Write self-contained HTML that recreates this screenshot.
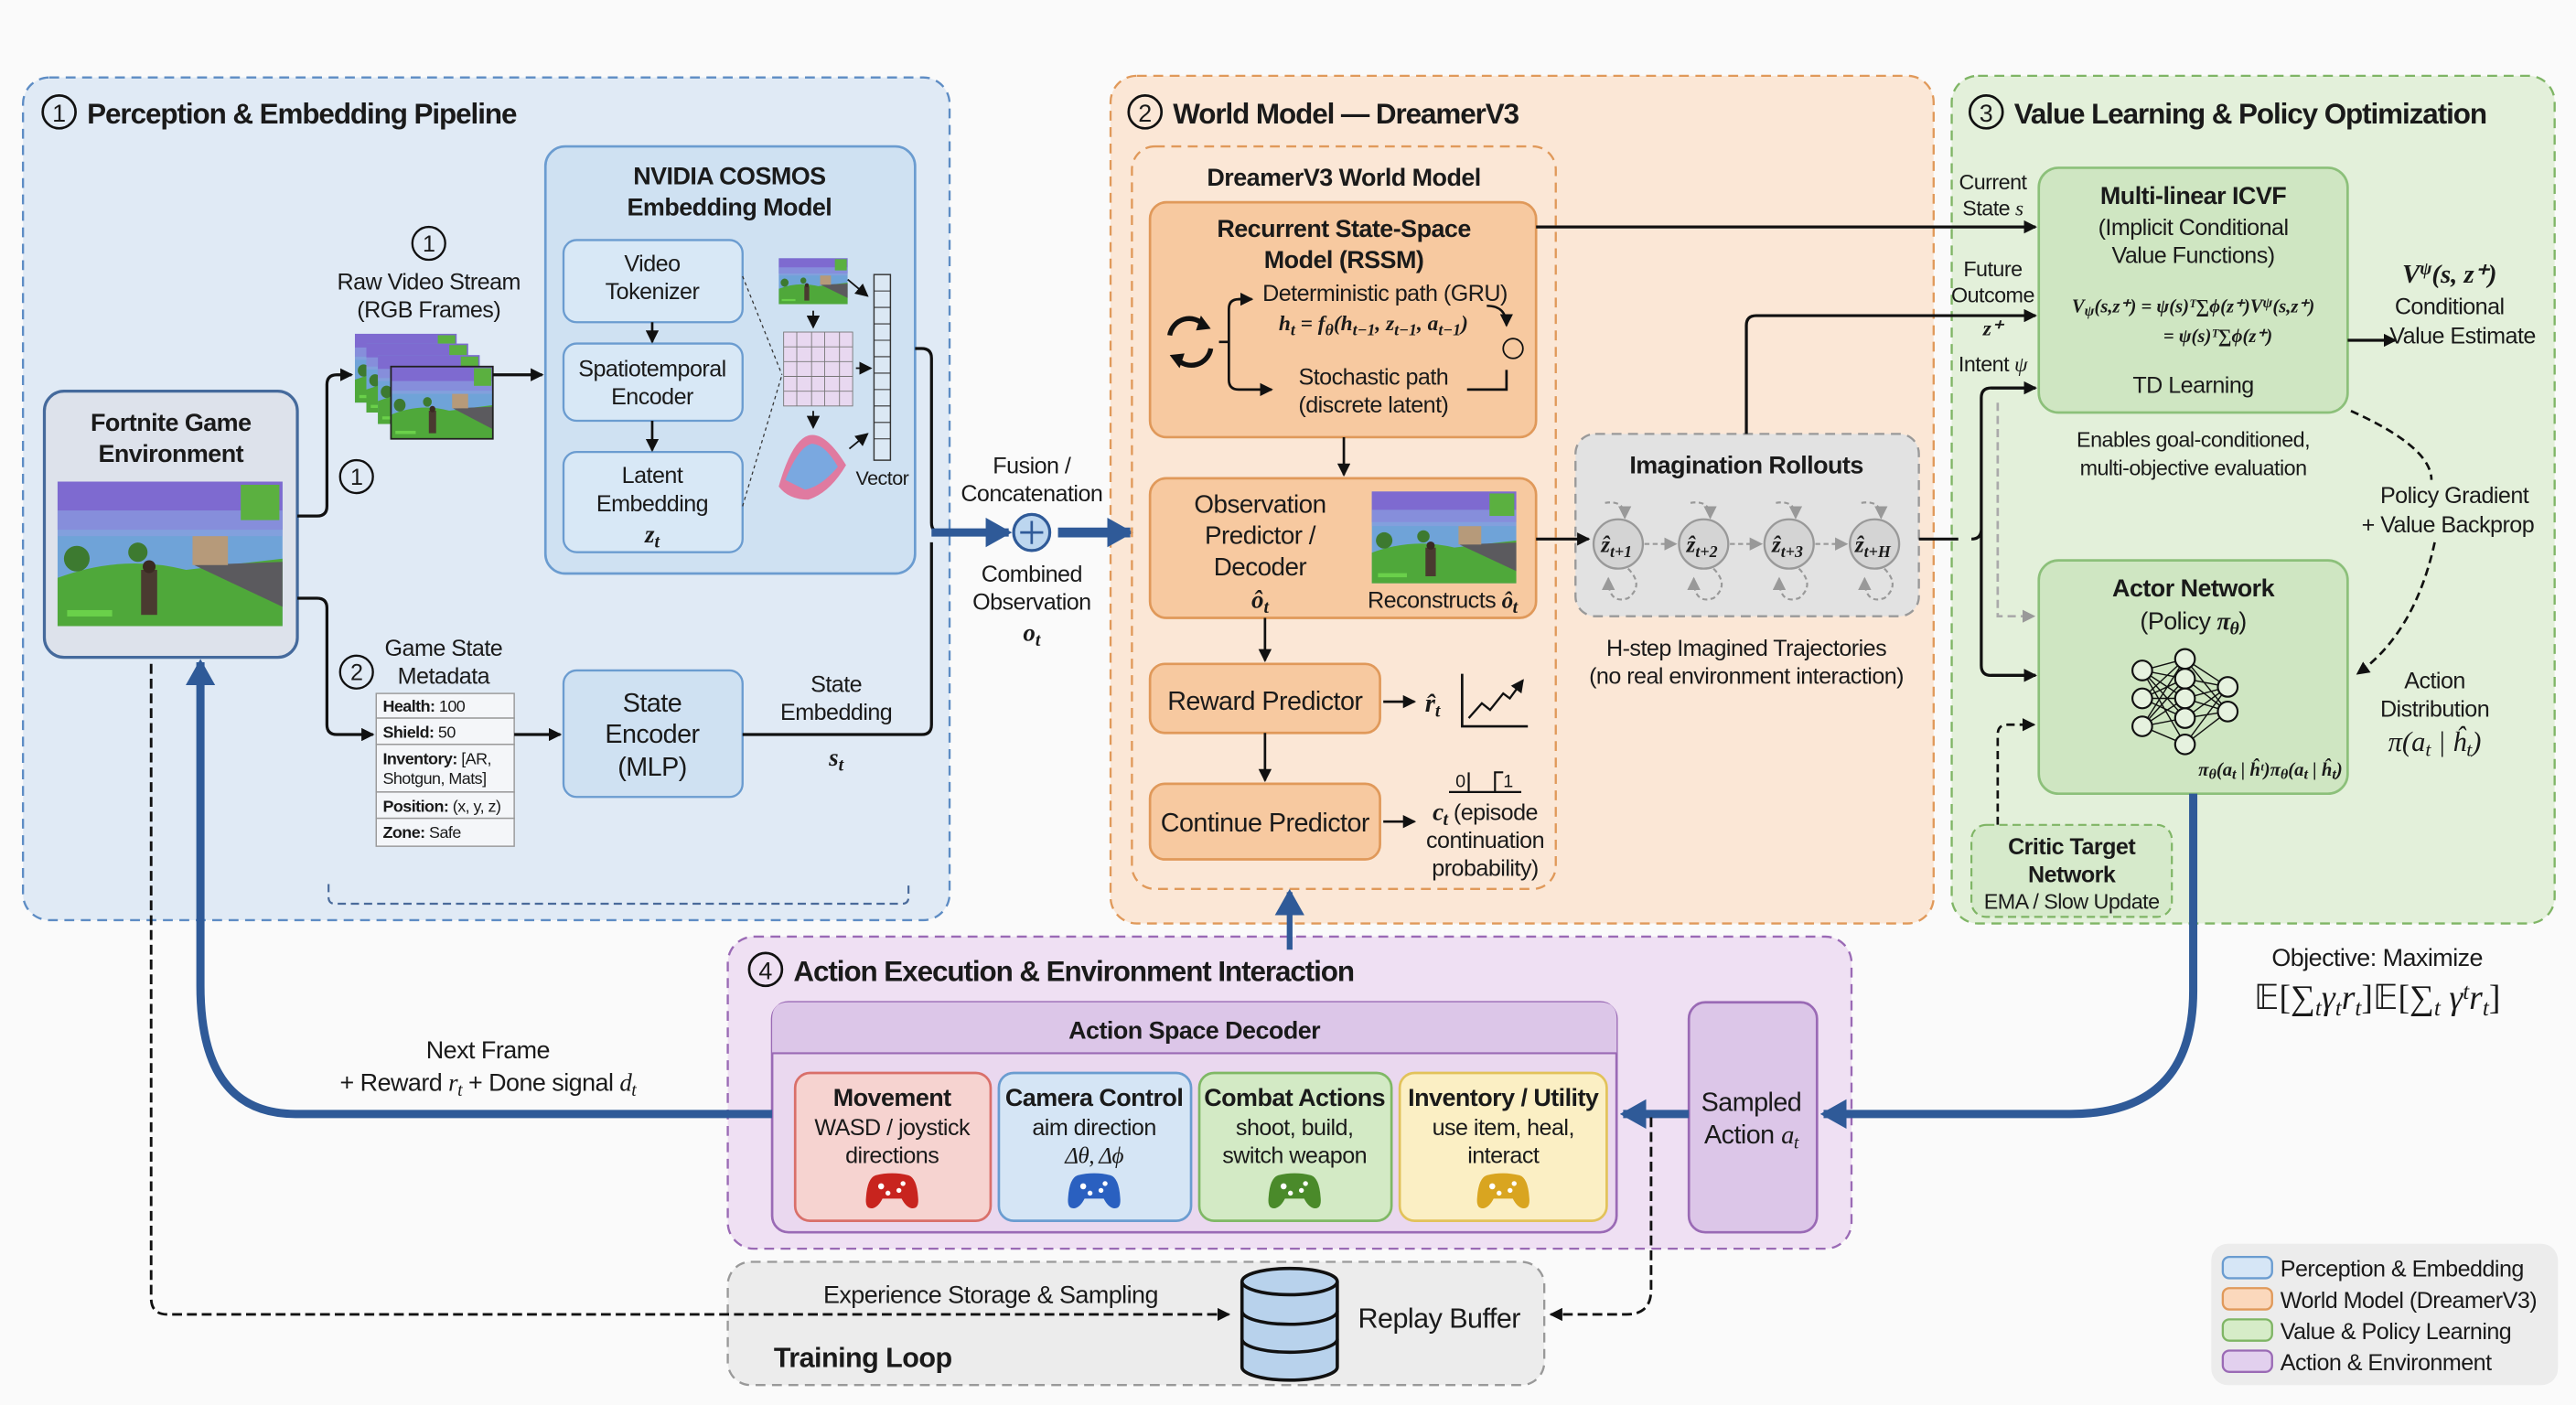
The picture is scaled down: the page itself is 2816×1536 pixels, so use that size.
<!DOCTYPE html>
<html><head><meta charset="utf-8"><style>
html,body{margin:0;padding:0;background:#fafafa;}
svg{display:block;}
text{font-family:"Liberation Sans",sans-serif;fill:#1a1a1a;}
.t{font-size:14px;letter-spacing:-0.3px;}
.b{font-weight:bold;}
.h{font-size:17.5px;font-weight:bold;letter-spacing:-0.6px;}
.m{font-family:"Liberation Serif",serif;font-style:italic;}
</style></head><body>
<svg width="2816" height="1536" viewBox="0 0 1568 855" xmlns="http://www.w3.org/2000/svg">
<defs>
<marker id="ak" markerWidth="8" markerHeight="8" refX="7" refY="4" orient="auto" markerUnits="userSpaceOnUse"><path d="M0,0 L8,4 L0,8 Z" fill="#111"/></marker>
<marker id="ag" markerWidth="8" markerHeight="8" refX="7" refY="4" orient="auto" markerUnits="userSpaceOnUse"><path d="M0,0 L8,4 L0,8 Z" fill="#999"/></marker>
<marker id="ab" markerWidth="16" markerHeight="18" refX="14" refY="9" orient="auto" markerUnits="userSpaceOnUse"><path d="M0,0 L16,9 L0,18 Z" fill="#2f5a98"/></marker>
<symbol id="scene" viewBox="0 0 140 90" preserveAspectRatio="none">
<rect width="140" height="90" fill="#6fa3d8"/>
<rect width="140" height="30" fill="#7e6ad0"/>
<rect y="18" width="140" height="16" fill="#8a9ee0" opacity="0.7"/>
<path d="M0,60 Q40,45 80,55 L140,48 L140,90 L0,90Z" fill="#4fa83a"/>
<path d="M85,52 L140,50 L140,78 Z" fill="#5b5a5e"/>
<rect x="84" y="34" width="22" height="18" fill="#b69a7a"/>
<circle cx="12" cy="48" r="8" fill="#3d7a30"/>
<circle cx="50" cy="44" r="6" fill="#3d7a30"/>
<rect x="52" y="55" width="10" height="28" fill="#4a3a30"/>
<circle cx="57" cy="53" r="4" fill="#3a2a22"/>
<rect x="114" y="2" width="24" height="22" fill="#5bb040"/>
<rect x="6" y="80" width="28" height="4" fill="#6ad04a"/>
</symbol>
<symbol id="pad" viewBox="0 0 40 30">
<path d="M8,4 Q20,1 32,4 Q38,6 39,20 Q40,29 34,28 Q30,27 27,21 L13,21 Q10,27 6,28 Q0,29 1,20 Q2,6 8,4Z"/>
<circle cx="12" cy="12" r="2.2" fill="#fff"/><circle cx="28" cy="10" r="1.8" fill="#fff"/><circle cx="25" cy="15" r="1.8" fill="#fff"/><circle cx="17" cy="17" r="1.8" fill="#fff"/>
</symbol>
</defs>
<rect width="1568" height="855" fill="#fafafa"/>

<!-- Panel 1 -->
<rect x="14" y="47" width="564" height="513" rx="16" fill="#e0eaf5" stroke="#5d8cc4" stroke-width="1.3" stroke-dasharray="6,4"/>
<circle cx="36" cy="68" r="10" fill="none" stroke="#111" stroke-width="1.5"/><text x="36" y="74" text-anchor="middle" style="font-size:15px">1</text>
<text x="53" y="75" class="h">Perception &amp; Embedding Pipeline</text>

<rect x="27" y="238" width="154" height="162" rx="12" fill="#dde2eb" stroke="#456a9c" stroke-width="1.8"/>
<text x="104" y="262" text-anchor="middle" class="t b" style="font-size:15px">Fortnite Game</text>
<text x="104" y="281" text-anchor="middle" class="t b" style="font-size:15px">Environment</text>
<use href="#scene" x="35" y="293" width="137" height="88"/>

<circle cx="261" cy="148" r="10" fill="none" stroke="#111" stroke-width="1.3"/><text x="261" y="153" text-anchor="middle" class="t">1</text>
<text x="261" y="176" text-anchor="middle" class="t">Raw Video Stream</text>
<text x="261" y="193" text-anchor="middle" class="t">(RGB Frames)</text>
<use href="#scene" x="216" y="203" width="62" height="42"/>
<use href="#scene" x="223" y="209" width="62" height="42"/>
<use href="#scene" x="230" y="216" width="62" height="42"/>
<use href="#scene" x="238" y="223" width="62" height="44"/>
<rect x="238" y="223" width="62" height="44" fill="none" stroke="#222" stroke-width="1"/>
<circle cx="217" cy="290" r="10" fill="none" stroke="#111" stroke-width="1.3"/><text x="217" y="295" text-anchor="middle" class="t">1</text>

<rect x="332" y="89" width="225" height="260" rx="12" fill="#cfe1f2" stroke="#6b9cd0" stroke-width="1.5"/>
<text x="444" y="112" text-anchor="middle" class="t b" style="font-size:15px">NVIDIA COSMOS</text>
<text x="444" y="131" text-anchor="middle" class="t b" style="font-size:15px">Embedding Model</text>
<rect x="343" y="146" width="109" height="50" rx="8" fill="#d8e8f6" stroke="#6b9cd0" stroke-width="1.3"/>
<text x="397" y="165" text-anchor="middle" class="t">Video</text><text x="397" y="182" text-anchor="middle" class="t">Tokenizer</text>
<rect x="343" y="209" width="109" height="47" rx="8" fill="#d8e8f6" stroke="#6b9cd0" stroke-width="1.3"/>
<text x="397" y="229" text-anchor="middle" class="t">Spatiotemporal</text><text x="397" y="246" text-anchor="middle" class="t">Encoder</text>
<rect x="343" y="275" width="109" height="61" rx="8" fill="#d8e8f6" stroke="#6b9cd0" stroke-width="1.3"/>
<text x="397" y="294" text-anchor="middle" class="t">Latent</text><text x="397" y="311" text-anchor="middle" class="t">Embedding</text><text x="397" y="330" text-anchor="middle" class="m b" style="font-size:15px">z<tspan style="font-size:11px" dy="3">t</tspan></text>
<line x1="397" y1="196" x2="397" y2="208" stroke="#111" stroke-width="1.5" marker-end="url(#ak)"/>
<line x1="397" y1="256" x2="397" y2="274" stroke="#111" stroke-width="1.5" marker-end="url(#ak)"/>
<line x1="452" y1="168" x2="476" y2="228" stroke="#333" stroke-width="0.7" stroke-dasharray="2,2"/>
<line x1="452" y1="308" x2="476" y2="228" stroke="#333" stroke-width="0.7" stroke-dasharray="2,2"/>
<use href="#scene" x="474" y="157" width="42" height="28"/>
<g stroke="#777" stroke-width="0.5" fill="#e8d8f0">
<rect x="477" y="202" width="42" height="45"/>
<path d="M477,211h42M477,220h42M477,229h42M477,238h42M485,202v45M494,202v45M502,202v45M511,202v45" fill="none"/>
</g>
<path d="M474,296 Q482,268 492,265 Q502,262 515,283 Q505,300 492,304 Q480,304 474,296Z" fill="#e07aa0"/>
<path d="M478,292 Q486,272 494,270 Q502,270 510,284 Q500,296 490,298Z" fill="#7aa8e0"/>
<line x1="495" y1="189" x2="495" y2="199" stroke="#111" stroke-width="1" marker-end="url(#ak)"/>
<line x1="495" y1="250" x2="495" y2="260" stroke="#111" stroke-width="1" marker-end="url(#ak)"/>
<line x1="516" y1="170" x2="528" y2="180" stroke="#111" stroke-width="1" marker-end="url(#ak)"/>
<line x1="521" y1="224" x2="530" y2="224" stroke="#111" stroke-width="1" marker-end="url(#ak)"/>
<line x1="517" y1="273" x2="528" y2="264" stroke="#111" stroke-width="1" marker-end="url(#ak)"/>
<rect x="532" y="167" width="10" height="113" fill="#dbe8f4" stroke="#333" stroke-width="0.8"/>
<path d="M532,177h10M532,187h10M532,197h10M532,207h10M532,217h10M532,227h10M532,237h10M532,247h10M532,257h10M532,267h10" stroke="#333" stroke-width="0.6"/>
<text x="537" y="295" text-anchor="middle" class="t" style="font-size:12px">Vector</text>

<circle cx="217" cy="409" r="10" fill="none" stroke="#111" stroke-width="1.3"/><text x="217" y="414" text-anchor="middle" class="t">2</text>
<text x="270" y="399" text-anchor="middle" class="t">Game State</text><text x="270" y="416" text-anchor="middle" class="t">Metadata</text>
<g stroke="#999" stroke-width="0.8" fill="#f4f6f9">
<rect x="229" y="422" width="84" height="15"/><rect x="229" y="437" width="84" height="16"/><rect x="229" y="453" width="84" height="29"/><rect x="229" y="482" width="84" height="16"/><rect x="229" y="498" width="84" height="17"/>
</g>
<text x="233" y="433" class="t" style="font-size:10px"><tspan class="b">Health:</tspan> 100</text>
<text x="233" y="449" class="t" style="font-size:10px"><tspan class="b">Shield:</tspan> 50</text>
<text x="233" y="465" class="t" style="font-size:10px"><tspan class="b">Inventory:</tspan> [AR,</text>
<text x="233" y="477" class="t" style="font-size:10px">Shotgun, Mats]</text>
<text x="233" y="494" class="t" style="font-size:10px"><tspan class="b">Position:</tspan> (x, y, z)</text>
<text x="233" y="510" class="t" style="font-size:10px"><tspan class="b">Zone:</tspan> Safe</text>
<rect x="343" y="408" width="109" height="77" rx="8" fill="#cfe1f2" stroke="#6b9cd0" stroke-width="1.3"/>
<text x="397" y="433" text-anchor="middle" class="t" style="font-size:16px">State</text>
<text x="397" y="452" text-anchor="middle" class="t" style="font-size:16px">Encoder</text>
<text x="397" y="472" text-anchor="middle" class="t" style="font-size:16px">(MLP)</text>
<text x="509" y="421" text-anchor="middle" class="t">State</text><text x="509" y="438" text-anchor="middle" class="t">Embedding</text>
<text x="509" y="466" text-anchor="middle" class="m b" style="font-size:15px">s<tspan style="font-size:11px" dy="3">t</tspan></text>
<path d="M200,538 v8 q0,4 4,4 h345 q4,0 4,-4 v-8" fill="none" stroke="#4a6a9a" stroke-width="1.2" stroke-dasharray="5,3"/>

<!-- P1 connectors -->
<path d="M181,314 h12 q6,0 6,-6 v-74 q0,-6 6,-6 h9" fill="none" stroke="#111" stroke-width="1.8" marker-end="url(#ak)"/>
<path d="M181,364 h12 q6,0 6,6 v71 q0,6 6,6 h22" fill="none" stroke="#111" stroke-width="1.8" marker-end="url(#ak)"/>
<line x1="300" y1="228" x2="330" y2="228" stroke="#111" stroke-width="1.8" marker-end="url(#ak)"/>
<line x1="313" y1="447" x2="341" y2="447" stroke="#111" stroke-width="1.8" marker-end="url(#ak)"/>
<path d="M557,212 h4 q6,0 6,6 v100 q0,6 6,6" fill="none" stroke="#111" stroke-width="1.8"/>
<path d="M452,447 h109 q6,0 6,-6 v-111" fill="none" stroke="#111" stroke-width="1.8"/>
<text x="628" y="288" text-anchor="middle" class="t">Fusion /</text><text x="628" y="305" text-anchor="middle" class="t">Concatenation</text>
<text x="628" y="354" text-anchor="middle" class="t">Combined</text><text x="628" y="371" text-anchor="middle" class="t">Observation</text>
<text x="628" y="390" text-anchor="middle" class="m b" style="font-size:15px">o<tspan style="font-size:11px" dy="3">t</tspan></text>

<!-- Panel 2 -->
<rect x="676" y="46" width="501" height="516" rx="16" fill="#fbe7d6" stroke="#e0995a" stroke-width="1.3" stroke-dasharray="6,4"/>
<line x1="567" y1="324" x2="614" y2="324" stroke="#2f5a98" stroke-width="5" marker-end="url(#ab)"/>
<circle cx="628" cy="324" r="11" fill="#bcd6ef" stroke="#2f5a98" stroke-width="1.8"/>
<path d="M621,324h14M628,317v14" stroke="#2f5a98" stroke-width="1.5"/>
<line x1="644" y1="324" x2="688" y2="324" stroke="#2f5a98" stroke-width="6" marker-end="url(#ab)"/>
<circle cx="697" cy="68" r="10" fill="none" stroke="#111" stroke-width="1.5"/><text x="697" y="74" text-anchor="middle" style="font-size:15px">2</text>
<text x="714" y="75" class="h">World Model — DreamerV3</text>
<rect x="689" y="89" width="258" height="452" rx="14" fill="none" stroke="#e0995a" stroke-width="1.3" stroke-dasharray="6,4"/>
<text x="818" y="113" text-anchor="middle" class="t b" style="font-size:15px">DreamerV3 World Model</text>
<rect x="700" y="123" width="235" height="143" rx="10" fill="#f7c9a0" stroke="#e0995a" stroke-width="1.5"/>
<text x="818" y="144" text-anchor="middle" class="t b" style="font-size:15px">Recurrent State-Space</text>
<text x="818" y="163" text-anchor="middle" class="t b" style="font-size:15px">Model (RSSM)</text>
<text x="843" y="183" text-anchor="middle" class="t">Deterministic path (GRU)</text>
<text x="836" y="201" text-anchor="middle" class="m b" style="font-size:13px">h<tspan dy="3" style="font-size:10px">t</tspan><tspan dy="-3"> = f</tspan><tspan dy="3" style="font-size:10px">θ</tspan><tspan dy="-3">(h</tspan><tspan dy="3" style="font-size:10px">t−1</tspan><tspan dy="-3">, z</tspan><tspan dy="3" style="font-size:10px">t−1</tspan><tspan dy="-3">, a</tspan><tspan dy="3" style="font-size:10px">t−1</tspan><tspan dy="-3">)</tspan></text>
<text x="836" y="234" text-anchor="middle" class="t">Stochastic path</text>
<text x="836" y="251" text-anchor="middle" class="t">(discrete latent)</text>
<g fill="none" stroke="#111" stroke-width="3">
<path d="M712,204 a12,12 0 0 1 21,-6"/><path d="M737,212 a12,12 0 0 1 -21,6"/>
</g>
<path d="M731,192 l6,8 l-9,1z M718,224 l-6,-8 l9,-1z" fill="#111"/>
<path d="M742,208 h6 M748,208 v-20 q0,-6 6,-6 h8 M748,208 v23 q0,6 6,6 h20" fill="none" stroke="#111" stroke-width="1.5"/>
<path d="M754,182 h8" stroke="#111" stroke-width="1.5" marker-end="url(#ak)"/>
<path d="M768,237 h6" stroke="#111" stroke-width="1.5" marker-end="url(#ak)"/>
<path d="M905,186 q12,0 12,12" fill="none" stroke="#111" stroke-width="1.3" marker-end="url(#ak)"/>
<circle cx="921" cy="212" r="6" fill="none" stroke="#111" stroke-width="1"/>
<path d="M893,237 h24 v-12" fill="none" stroke="#111" stroke-width="1.5"/>
<line x1="818" y1="266" x2="818" y2="289" stroke="#111" stroke-width="1.5" marker-end="url(#ak)"/>
<rect x="700" y="291" width="235" height="85" rx="10" fill="#f7c9a0" stroke="#e0995a" stroke-width="1.5"/>
<text x="767" y="312" text-anchor="middle" class="t" style="font-size:15.5px">Observation</text>
<text x="767" y="331" text-anchor="middle" class="t" style="font-size:15.5px">Predictor /</text>
<text x="767" y="350" text-anchor="middle" class="t" style="font-size:15.5px">Decoder</text>
<text x="767" y="370" text-anchor="middle" class="m b" style="font-size:15px">ô<tspan dy="3" style="font-size:11px">t</tspan></text>
<use href="#scene" x="835" y="299" width="88" height="56"/>
<text x="878" y="370" text-anchor="middle" class="t">Reconstructs <tspan class="m b">ô<tspan dy="3" style="font-size:11px">t</tspan></tspan></text>
<line x1="770" y1="376" x2="770" y2="402" stroke="#111" stroke-width="1.5" marker-end="url(#ak)"/>
<rect x="700" y="404" width="140" height="42" rx="9" fill="#f7c9a0" stroke="#e0995a" stroke-width="1.5"/>
<text x="770" y="432" text-anchor="middle" class="t" style="font-size:16px">Reward Predictor</text>
<line x1="842" y1="427" x2="861" y2="427" stroke="#111" stroke-width="1.5" marker-end="url(#ak)"/>
<text x="872" y="433" text-anchor="middle" class="m b" style="font-size:16px">r̂<tspan dy="3" style="font-size:11px">t</tspan></text>
<path d="M890,410 v32 h40" fill="none" stroke="#111" stroke-width="1.5"/>
<path d="M894,437 l8,-9 l5,4 l8,-10 l4,3 l8,-11" fill="none" stroke="#111" stroke-width="1.3" marker-end="url(#ak)"/>
<line x1="770" y1="446" x2="770" y2="475" stroke="#111" stroke-width="1.5" marker-end="url(#ak)"/>
<rect x="700" y="477" width="140" height="46" rx="9" fill="#f7c9a0" stroke="#e0995a" stroke-width="1.5"/>
<text x="770" y="506" text-anchor="middle" class="t" style="font-size:16px">Continue Predictor</text>
<line x1="842" y1="500" x2="861" y2="500" stroke="#111" stroke-width="1.5" marker-end="url(#ak)"/>
<text x="886" y="479" class="t" style="font-size:11px">0</text><text x="915" y="479" class="t" style="font-size:11px">1</text>
<path d="M882,482 h44 M894,482 v-12 M910,482 v-12 h5" fill="none" stroke="#111" stroke-width="1.2"/>
<text x="904" y="499" text-anchor="middle" class="t"><tspan class="m b" style="font-size:15px">c<tspan dy="3" style="font-size:11px">t</tspan></tspan><tspan dy="-3"> (episode</tspan></text>
<text x="904" y="516" text-anchor="middle" class="t">continuation</text>
<text x="904" y="533" text-anchor="middle" class="t">probability)</text>

<!-- Imagination -->
<rect x="959" y="264" width="209" height="111" rx="12" fill="#e2e2e2" stroke="#999" stroke-width="1.3" stroke-dasharray="6,4"/>
<text x="1063" y="288" text-anchor="middle" class="t b" style="font-size:15px">Imagination Rollouts</text>
<g fill="#d4d4d4" stroke="#999" stroke-width="1.3">
<circle cx="985" cy="331" r="15"/><circle cx="1037" cy="331" r="15"/><circle cx="1089" cy="331" r="15"/><circle cx="1141" cy="331" r="15"/>
</g>
<text x="984" y="336" text-anchor="middle" class="m b" style="font-size:14px">ẑ<tspan dy="3" style="font-size:10px">t+1</tspan></text>
<text x="1036" y="336" text-anchor="middle" class="m b" style="font-size:14px">ẑ<tspan dy="3" style="font-size:10px">t+2</tspan></text>
<text x="1088" y="336" text-anchor="middle" class="m b" style="font-size:14px">ẑ<tspan dy="3" style="font-size:10px">t+3</tspan></text>
<text x="1140" y="336" text-anchor="middle" class="m b" style="font-size:14px">ẑ<tspan dy="3" style="font-size:10px">t+H</tspan></text>
<g stroke="#999" stroke-width="1.2" stroke-dasharray="3,2" fill="none">
<line x1="1001" y1="331" x2="1020" y2="331" marker-end="url(#ag)"/>
<line x1="1053" y1="331" x2="1072" y2="331" marker-end="url(#ag)"/>
<line x1="1105" y1="331" x2="1124" y2="331" marker-end="url(#ag)"/>
<path d="M977,306 q12,-2 12,9" marker-end="url(#ag)"/><path d="M1029,306 q12,-2 12,9" marker-end="url(#ag)"/><path d="M1081,306 q12,-2 12,9" marker-end="url(#ag)"/><path d="M1133,306 q12,-2 12,9" marker-end="url(#ag)"/>
<path d="M991,346 q10,10 0,18 q-12,4 -12,-12" marker-end="url(#ag)"/><path d="M1043,346 q10,10 0,18 q-12,4 -12,-12" marker-end="url(#ag)"/><path d="M1095,346 q10,10 0,18 q-12,4 -12,-12" marker-end="url(#ag)"/><path d="M1147,346 q10,10 0,18 q-12,4 -12,-12" marker-end="url(#ag)"/>
</g>
<text x="1063" y="399" text-anchor="middle" class="t">H-step Imagined Trajectories</text>
<text x="1063" y="416" text-anchor="middle" class="t">(no real environment interaction)</text>
<line x1="935" y1="328" x2="967" y2="328" stroke="#111" stroke-width="1.8" marker-end="url(#ak)"/>

<!-- Panel 3 -->
<rect x="1188" y="46" width="367" height="516" rx="16" fill="#e3f0da" stroke="#7fb565" stroke-width="1.3" stroke-dasharray="6,4"/>
<circle cx="1209" cy="68" r="10" fill="none" stroke="#111" stroke-width="1.5"/><text x="1209" y="74" text-anchor="middle" style="font-size:15px">3</text>
<text x="1226" y="75" class="h">Value Learning &amp; Policy Optimization</text>
<rect x="1241" y="102" width="188" height="149" rx="12" fill="#cfe6c2" stroke="#8cc07a" stroke-width="1.5"/>
<text x="1335" y="124" text-anchor="middle" class="t b" style="font-size:15px">Multi-linear ICVF</text>
<text x="1335" y="143" text-anchor="middle" class="t">(Implicit Conditional</text>
<text x="1335" y="160" text-anchor="middle" class="t">Value Functions)</text>
<text x="1335" y="190" text-anchor="middle" class="m b" style="font-size:11.5px">V<tspan dy="2" style="font-size:9px">ψ</tspan><tspan dy="-2">(s,z⁺) = ψ(s)ᵀ∑ϕ(z⁺)V</tspan><tspan dy="-3" style="font-size:9px">ψ</tspan><tspan dy="3">(s,z⁺)</tspan></text>
<text x="1350" y="208" text-anchor="middle" class="m b" style="font-size:11.5px">= ψ(s)ᵀ∑ϕ(z⁺)</text>
<text x="1335" y="239" text-anchor="middle" class="t">TD Learning</text>
<text x="1213" y="115" text-anchor="middle" class="t" style="font-size:13px">Current</text>
<text x="1213" y="131" text-anchor="middle" class="t" style="font-size:13px">State <tspan class="m">s</tspan></text>
<text x="1213" y="168" text-anchor="middle" class="t" style="font-size:13px">Future</text>
<text x="1213" y="184" text-anchor="middle" class="t" style="font-size:13px">Outcome</text>
<text x="1213" y="204" text-anchor="middle" class="m b" style="font-size:13px">z⁺</text>
<text x="1213" y="226" text-anchor="middle" class="t" style="font-size:13px">Intent <tspan class="m">ψ</tspan></text>
<line x1="935" y1="138" x2="1239" y2="138" stroke="#111" stroke-width="1.8" marker-end="url(#ak)"/>
<path d="M1063,264 v-66 q0,-6 6,-6 h170" fill="none" stroke="#111" stroke-width="1.8" marker-end="url(#ak)"/>
<path d="M1168,328 h24" fill="none" stroke="#111" stroke-width="1.8"/>
<path d="M1239,236 h-27 q-6,0 -6,6 v80 q0,6 -6,6 M1206,322 v83 q0,6 6,6 h27" fill="none" stroke="#111" stroke-width="1.8"/>
<line x1="1212" y1="236" x2="1239" y2="236" stroke="#111" stroke-width="1.8" marker-end="url(#ak)"/>
<line x1="1212" y1="411" x2="1239" y2="411" stroke="#111" stroke-width="1.8" marker-end="url(#ak)"/>
<line x1="1429" y1="207" x2="1458" y2="207" stroke="#111" stroke-width="1.8" marker-end="url(#ak)"/>
<text x="1491" y="172" text-anchor="middle" class="m b" style="font-size:16px">V<tspan dy="-5" style="font-size:11px">ψ</tspan><tspan dy="5">(s, z⁺)</tspan></text>
<text x="1491" y="191" text-anchor="middle" class="t">Conditional</text>
<text x="1499" y="209" text-anchor="middle" class="t">Value Estimate</text>
<text x="1335" y="272" text-anchor="middle" class="t" style="font-size:13px">Enables goal-conditioned,</text>
<text x="1335" y="289" text-anchor="middle" class="t" style="font-size:13px">multi-objective evaluation</text>
<path d="M1431,250 Q1480,272 1480,292" fill="none" stroke="#111" stroke-width="1.5" stroke-dasharray="5,3"/>
<path d="M1482,330 Q1470,385 1435,410" fill="none" stroke="#111" stroke-width="1.5" stroke-dasharray="5,3" marker-end="url(#ak)"/>
<text x="1494" y="306" text-anchor="middle" class="t">Policy Gradient</text>
<text x="1490" y="324" text-anchor="middle" class="t">+ Value Backprop</text>
<rect x="1241" y="341" width="188" height="142" rx="12" fill="#cfe6c2" stroke="#8cc07a" stroke-width="1.5"/>
<text x="1335" y="363" text-anchor="middle" class="t b" style="font-size:15px">Actor Network</text>
<text x="1335" y="383" text-anchor="middle" class="t" style="font-size:15px">(Policy <tspan class="m b">π<tspan dy="3" style="font-size:11px">θ</tspan></tspan><tspan dy="-3">)</tspan></text>
<g stroke="#111" stroke-width="0.8">
<path d="M1304,408 L1330,401 M1304,408 L1330,413 M1304,408 L1330,425 M1304,408 L1330,437 M1304,425 L1330,401 M1304,425 L1330,413 M1304,425 L1330,425 M1304,425 L1330,437 M1304,442 L1330,401 M1304,442 L1330,413 M1304,442 L1330,425 M1304,442 L1330,437 M1304,408 L1330,453 M1304,442 L1330,453 M1330,401 L1356,418 M1330,413 L1356,418 M1330,425 L1356,418 M1330,437 L1356,418 M1330,453 L1356,418 M1330,401 L1356,433 M1330,413 L1356,433 M1330,425 L1356,433 M1330,437 L1356,433 M1330,453 L1356,433"/>
</g>
<g fill="#e6f2df" stroke="#111" stroke-width="1.2">
<circle cx="1304" cy="408" r="6"/><circle cx="1304" cy="425" r="6"/><circle cx="1304" cy="442" r="6"/>
<circle cx="1330" cy="401" r="6"/><circle cx="1330" cy="413" r="6"/><circle cx="1330" cy="425" r="6"/><circle cx="1330" cy="437" r="6"/><circle cx="1330" cy="453" r="6"/>
<circle cx="1356" cy="418" r="6"/><circle cx="1356" cy="433" r="6"/>
</g>
<text x="1382" y="472" text-anchor="middle" class="m b" style="font-size:11.5px">π<tspan dy="2" style="font-size:9px">θ</tspan><tspan dy="-2">(a</tspan><tspan dy="2" style="font-size:9px">t</tspan><tspan dy="-2"> | ĥᵗ)π</tspan><tspan dy="2" style="font-size:9px">θ</tspan><tspan dy="-2">(a</tspan><tspan dy="2" style="font-size:9px">t</tspan><tspan dy="-2"> | ĥ</tspan><tspan dy="2" style="font-size:9px">t</tspan><tspan dy="-2">)</tspan></text>
<text x="1482" y="419" text-anchor="middle" class="t">Action</text>
<text x="1482" y="436" text-anchor="middle" class="t">Distribution</text>
<text x="1482" y="457" text-anchor="middle" class="m" style="font-size:17px">π(a<tspan dy="3" style="font-size:12px">t</tspan><tspan dy="-3"> | ĥ</tspan><tspan dy="3" style="font-size:12px">t</tspan><tspan dy="-3">)</tspan></text>
<path d="M1216,245 v130 h22" fill="none" stroke="#aaa" stroke-width="1.5" stroke-dasharray="5,3" marker-end="url(#ag)"/>
<path d="M1216,502 v-55 q0,-6 6,-6 h16" fill="none" stroke="#111" stroke-width="1.5" stroke-dasharray="5,3" marker-end="url(#ak)"/>
<rect x="1200" y="502" width="122" height="56" rx="9" fill="#d6eacb" stroke="#7fb565" stroke-width="1.2" stroke-dasharray="5,3"/>
<text x="1261" y="520" text-anchor="middle" class="t b">Critic Target</text>
<text x="1261" y="537" text-anchor="middle" class="t b">Network</text>
<text x="1261" y="553" text-anchor="middle" class="t" style="font-size:13px">EMA / Slow Update</text>

<text x="1447" y="588" text-anchor="middle" class="t" style="font-size:15px">Objective: Maximize</text>
<text x="1447" y="614" text-anchor="middle" style="font-family:'Liberation Serif',serif;font-size:21px">𝔼[∑<tspan class="m" style="font-size:14px" dy="4">t</tspan><tspan class="m" dy="-4">γ</tspan><tspan class="m" style="font-size:14px" dy="4">t</tspan><tspan class="m" dy="-4">r</tspan><tspan class="m" style="font-size:14px" dy="4">t</tspan><tspan dy="-4">]𝔼[∑</tspan><tspan class="m" style="font-size:14px" dy="4">t</tspan><tspan class="m" dy="-4"> γ</tspan><tspan class="m" style="font-size:14px" dy="-6">t</tspan><tspan class="m" dy="6">r</tspan><tspan class="m" style="font-size:14px" dy="4">t</tspan><tspan dy="-4">]</tspan></text>

<!-- Panel 4 -->
<rect x="443" y="570" width="684" height="190" rx="16" fill="#efe0f3" stroke="#9a6ab5" stroke-width="1.3" stroke-dasharray="6,4"/>
<circle cx="466" cy="590" r="10" fill="none" stroke="#111" stroke-width="1.5"/><text x="466" y="596" text-anchor="middle" style="font-size:15px">4</text>
<text x="483" y="597" class="h">Action Execution &amp; Environment Interaction</text>
<rect x="470" y="610" width="514" height="140" rx="10" fill="#ead8ef" stroke="#9a6ab5" stroke-width="1.5"/>
<path d="M470,641 V620 q0,-10 10,-10 h494 q10,0 10,10 v21z" fill="#dcc6e8"/>
<line x1="470" y1="641" x2="984" y2="641" stroke="#9a6ab5" stroke-width="1.2"/>
<text x="727" y="632" text-anchor="middle" class="t b" style="font-size:15px">Action Space Decoder</text>
<rect x="484" y="653" width="119" height="90" rx="9" fill="#f6d3d0" stroke="#d9706a" stroke-width="1.5"/>
<rect x="608" y="653" width="117" height="90" rx="9" fill="#d5e5f5" stroke="#6a9cd0" stroke-width="1.5"/>
<rect x="730" y="653" width="117" height="90" rx="9" fill="#d3eac5" stroke="#7fb865" stroke-width="1.5"/>
<rect x="852" y="653" width="126" height="90" rx="9" fill="#fbefc4" stroke="#e2c25a" stroke-width="1.5"/>
<text x="543" y="673" text-anchor="middle" class="t b" style="font-size:15px">Movement</text>
<text x="543" y="691" text-anchor="middle" class="t">WASD / joystick</text><text x="543" y="708" text-anchor="middle" class="t">directions</text>
<text x="666" y="673" text-anchor="middle" class="t b" style="font-size:15px">Camera Control</text>
<text x="666" y="691" text-anchor="middle" class="t">aim direction</text><text x="666" y="708" text-anchor="middle" class="t m">Δθ, Δϕ</text>
<text x="788" y="673" text-anchor="middle" class="t b" style="font-size:15px">Combat Actions</text>
<text x="788" y="691" text-anchor="middle" class="t">shoot, build,</text><text x="788" y="708" text-anchor="middle" class="t">switch weapon</text>
<text x="915" y="673" text-anchor="middle" class="t b" style="font-size:15px">Inventory / Utility</text>
<text x="915" y="691" text-anchor="middle" class="t">use item, heal,</text><text x="915" y="708" text-anchor="middle" class="t">interact</text>
<use href="#pad" x="526" y="712" width="34" height="25" fill="#c8241e"/>
<use href="#pad" x="649" y="712" width="34" height="25" fill="#2a60c0"/>
<use href="#pad" x="771" y="712" width="34" height="25" fill="#4a8a2a"/>
<use href="#pad" x="898" y="712" width="34" height="25" fill="#d9a520"/>
<rect x="1028" y="610" width="78" height="140" rx="10" fill="#dcc6e8" stroke="#9a6ab5" stroke-width="1.5"/>
<text x="1066" y="676" text-anchor="middle" class="t" style="font-size:16px">Sampled</text>
<text x="1066" y="696" text-anchor="middle" class="t" style="font-size:16px">Action <tspan class="m">a<tspan dy="3" style="font-size:11px">t</tspan></tspan></text>
<line x1="1028" y1="678" x2="988" y2="678" stroke="#2f5a98" stroke-width="5" marker-end="url(#ab)"/>
<path d="M1335,483 v120 q0,75 -75,75 h-150" fill="none" stroke="#2f5a98" stroke-width="5" marker-end="url(#ab)"/>
<line x1="785" y1="578" x2="785" y2="543" stroke="#2f5a98" stroke-width="3.5" marker-end="url(#ab)"/>
<path d="M470,678 H180 Q122,678 122,600 V403" fill="none" stroke="#2f5a98" stroke-width="5" marker-end="url(#ab)"/>
<text x="297" y="644" text-anchor="middle" class="t" style="font-size:15px">Next Frame</text>
<text x="297" y="664" text-anchor="middle" class="t" style="font-size:15px">+ Reward <tspan class="m">r<tspan dy="3" style="font-size:11px">t</tspan></tspan><tspan dy="-3"> + Done signal </tspan><tspan class="m">d<tspan dy="3" style="font-size:11px">t</tspan></tspan></text>

<!-- Training loop -->
<rect x="443" y="768" width="497" height="75" rx="14" fill="#ececec" stroke="#999" stroke-width="1.3" stroke-dasharray="6,4"/>
<text x="603" y="793" text-anchor="middle" class="t" style="font-size:15px">Experience Storage &amp; Sampling</text>
<text x="471" y="832" class="t b" style="font-size:17px">Training Loop</text>
<g fill="#b8d2ec" stroke="#111" stroke-width="2">
<path d="M756,780 v52 a29,8 0 0 0 58,0 v-52"/>
<ellipse cx="785" cy="780" rx="29" ry="8"/>
<path d="M756,798 a29,8 0 0 0 58,0 M756,815 a29,8 0 0 0 58,0" fill="none"/>
</g>
<text x="876" y="808" text-anchor="middle" class="t" style="font-size:17px">Replay Buffer</text>
<path d="M92,404 V790 q0,10 10,10 H748" fill="none" stroke="#111" stroke-width="1.6" stroke-dasharray="6,3" marker-end="url(#ak)"/>
<path d="M1005,680 V785 q0,15 -15,15 H944" fill="none" stroke="#111" stroke-width="1.6" stroke-dasharray="6,3" marker-end="url(#ak)"/>

<!-- Legend -->
<rect x="1346" y="757" width="211" height="86" rx="10" fill="#ececec"/>
<rect x="1353" y="765" width="30" height="13" rx="4" fill="#d6e6f6" stroke="#6a9cd0" stroke-width="1.3"/>
<rect x="1353" y="784" width="30" height="13" rx="4" fill="#fbd8bc" stroke="#e0995a" stroke-width="1.3"/>
<rect x="1353" y="803" width="30" height="13" rx="4" fill="#d6ecc8" stroke="#7fb565" stroke-width="1.3"/>
<rect x="1353" y="822" width="30" height="13" rx="4" fill="#e2d0ee" stroke="#9a6ab5" stroke-width="1.3"/>
<text x="1388" y="777" class="t">Perception &amp; Embedding</text>
<text x="1388" y="796" class="t">World Model (DreamerV3)</text>
<text x="1388" y="815" class="t">Value &amp; Policy Learning</text>
<text x="1388" y="834" class="t">Action &amp; Environment</text>
</svg>
</body></html>
